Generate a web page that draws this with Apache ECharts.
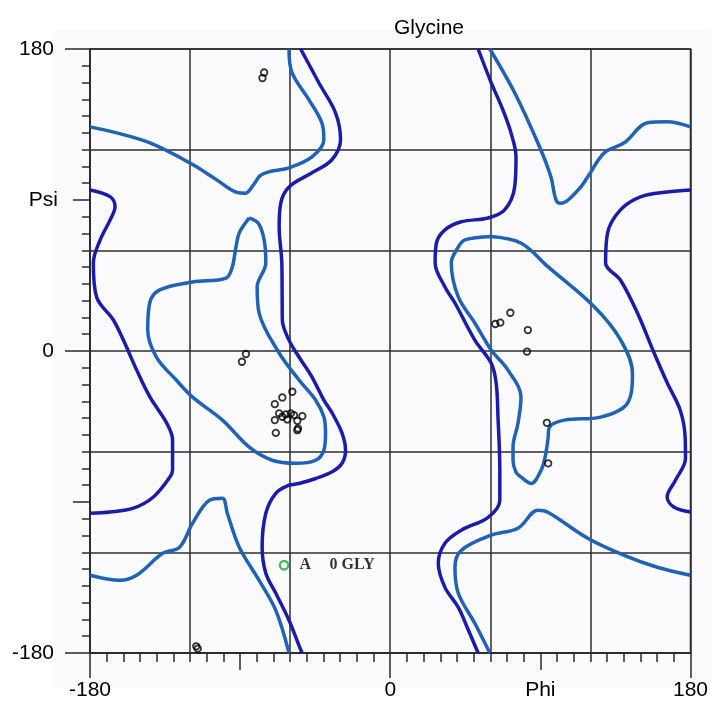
<!DOCTYPE html>
<html><head><meta charset="utf-8">
<script src="https://cdn.jsdelivr.net/npm/echarts@6/dist/echarts.min.js"></script>
<style>html,body{margin:0;padding:0;background:#fff}#c{width:711px;height:702px}</style>
</head><body><div id="c"></div>
<script>
// ---------- data ----------
const titleText = 'Glycine';
const axisLabelValues = [-180, 0, 180];
const phiName = 'Phi';
const psiName = 'Psi';
const nameValue = 90;

// outer (dark blue) contour lines, [phi, psi]
const outerLeft = [[-53.7,180],[-42.8,159.9],[-32.8,142],[-29.8,125.9],[-35,114],[-46.9,106.2],[-60.7,97.8],[-65.6,88.3],[-66.6,74],[-65,52.5],[-64.8,32.2],[-64.7,18.5],[-60.7,6.5],[-54.7,-3.6],[-46.9,-15.5],[-39.8,-29.3],[-34.8,-37],[-28.9,-49],[-26.8,-59.1],[-28.9,-66.9],[-34.8,-72],[-44.7,-76],[-54.7,-79],[-60.7,-80],[-68.6,-84.8],[-74.6,-96.7],[-76.8,-117],[-74.6,-132.5],[-68.6,-144.4],[-60.7,-160.5],[-55.9,-172.5],[-52.9,-180]];
const outerEdgeLeft = [[-180,96],[-168,92],[-165,86],[-168,78],[-174,66],[-178,52.5],[-176,32],[-166,18.5],[-160,6.5],[-152,-11.4],[-144,-27.5],[-134,-43],[-130.5,-53],[-130.5,-71],[-132,-75],[-142,-87],[-154,-93.7],[-168,-96],[-180,-96.7]];
const outerMiddle = [[52.7,180],[60.5,160],[67,145],[72.4,130],[75.4,115.7],[74.6,97.8],[68.6,84.1],[58.7,79.3],[42.6,77],[32.8,72.2],[27.7,64.4],[26.9,52.5],[32.8,38.2],[38.8,28.6],[50.7,6.5],[60.5,-7.2],[63.5,-19.1],[64.6,-39.4],[65.7,-71],[65.7,-88.9],[58.7,-99.1],[42.6,-106.8],[32.8,-114.6],[28.8,-126.5],[32.8,-140.9],[40.8,-152.8],[46.7,-166],[52.7,-180]];
const outerEdgeRight = [[180,96],[166,94.8],[150,91.9],[138,84.1],[130.3,70.4],[129.1,52.5],[138,42.3],[148.2,22.6],[158.2,-1.2],[166.1,-19.1],[173.8,-35.2],[176.8,-51.3],[177,-64],[171,-77],[166,-87],[170,-93],[180,-96]];

// inner (medium blue) contour lines, [phi, psi]
const innerTopLeft = [[-180,133.6],[-164,130],[-144,124],[-120,112],[-104,102],[-92,94.5],[-87,94],[-82,99],[-78,104.5],[-72,107],[-60.7,109.2],[-46.9,115.7],[-39.8,125.9],[-41,136],[-48.7,149.7],[-58.9,165.9],[-60.7,180]];
const innerTopRight = [[59.7,180],[74.6,153.9],[89.5,121.7],[96.3,103.8],[99.4,90],[102.2,88],[106.6,90],[114.4,98],[118.4,103.8],[128.3,118.1],[140.3,124.1],[154.2,136],[166.1,136.6],[180,133.6]];
const innerLoopLeft = [[-84.5,79.3],[-90.5,70.4],[-92.5,62],[-94.7,50.1],[-98.4,43.5],[-118.5,41.1],[-138.2,36.4],[-144.2,28.6],[-145.4,12.5],[-140.2,-3.6],[-128.3,-17.3],[-118.5,-27.5],[-100.6,-41.2],[-84.5,-57.3],[-70.8,-65.1],[-56.7,-66.9],[-44.7,-65.1],[-39.8,-59.1],[-38.8,-49],[-39.8,-39.2],[-44.7,-29.3],[-54.7,-17.3],[-66.6,-1.2],[-78.6,22.6],[-79.8,38.2],[-74.6,52.5],[-75.6,66.2],[-79,76],[-84.5,79.3]];
const innerLoopRight = [[60.7,68.2],[44.8,66.2],[40.8,62],[36.6,52.5],[40.8,32.2],[50.7,16.7],[60.5,0.6],[70.6,-11.4],[78.4,-27.5],[76.6,-43],[73.6,-57.3],[73.6,-65.1],[75.4,-72.2],[78.5,-75.2],[84.5,-79],[90.5,-71],[92.7,-63.9],[94.5,-53.1],[95.5,-45.4],[104.4,-41.2],[126.1,-39.4],[142.2,-31.1],[145.2,-13.2],[138.2,6.5],[122.3,26.4],[94.5,50.3],[78.5,64.2],[60.7,68.2]];
const innerBottomLeft = [[-180,-133.7],[-162.1,-136.7],[-152.1,-133.7],[-136.4,-120.6],[-126.3,-117],[-118.5,-102.7],[-108.4,-88.9],[-100.6,-87.7],[-97.7,-96.7],[-90.5,-117],[-78.6,-136.7],[-68.6,-154.6],[-60.7,-180]];
const innerBottomRight = [[59.7,-180],[50.7,-162.3],[40.8,-144.4],[38.8,-128.9],[42.6,-118.8],[60.5,-109.8],[76.6,-105.6],[88.5,-94.9],[94.5,-96.1],[118.4,-111.6],[140.3,-121.8],[160.1,-128.9],[180,-133.7]];

// residues
const glyPhi = [-75.6,-76.6,-86.5,-88.9,-58.7,-64.7,-69.2,-66.6,-62.6,-59.6,-57.7,-52.7,-69.2,-61.7,-55.7,-55.7,-55.3,-68.6,-64.7,72,66,63,82.5,82,93.9,94.7,-116.3,-115.4];
const glyPsi = [166,162.7,-1.8,-6.4,-24.3,-27.7,-31.7,-37.2,-37.8,-37.2,-38.2,-38.8,-41.2,-40.8,-41.6,-47.2,-46.2,-48.8,-39.2,22.8,16.9,16.1,12.5,-0.4,-42.8,-67,-176,-177.4];
const markedPhi = [-63.6];
const markedPsi = [-127.7];
const markedChain = 'A';
const markedResidue = '0 GLY';

// ---------- chart ----------
const OUTER = '#1c1caa';
const INNER = '#1f62b6';
const TICK = '#2a2a2a';
const labelFont = {fontFamily:'Liberation Sans, Arial, sans-serif', fontSize:21, color:'#000'};

function labelMap(vals){ const m={}; vals.forEach(v=>m[v]=String(v)); return m; }
const numLabels = labelMap(axisLabelValues);

function axis(kind, interval, tickLen, labels, margin, main){
  return {
    type:'value', min:-180, max:180, interval,
    position: kind==='x' ? 'bottom' : 'left',
    axisLine:{show:!!main, onZero:false, lineStyle:{color:TICK, width:1.5}},
    axisTick:{show:true, length:tickLen, lineStyle:{color:TICK, width:1.5}},
    splitLine:{show:!!main, lineStyle:{color:'#2e2e2e', width:1.5}},
    axisLabel: labels ? Object.assign({show:true, margin, showMinLabel:true, showMaxLabel:true,
      formatter: v => (labels[v] !== undefined ? labels[v] : '')}, labelFont) : {show:false}
  };
}

const xAxes = [
  axis('x', 60, 9, null, 0, true),
  axis('x', 10, 9, null, 0, false),
  axis('x', 90, 17, {[nameValue]: phiName}, 27, false),
  axis('x', 180, 25, numLabels, 27, false)
];
const yAxes = [
  axis('y', 60, 8, null, 0, true),
  axis('y', 10, 8, null, 0, false),
  axis('y', 90, 17, {[nameValue]: psiName}, 32, false),
  axis('y', 180, 25, numLabels, 36, false)
];

function contour(data, color){
  return {type:'line', data, smooth:0.35, symbol:'none', silent:true, z:3,
    lineStyle:{color, width:3.5}, xAxisIndex:0, yAxisIndex:0};
}

const serif = 'Liberation Serif, Times New Roman, serif';
const series = [
  contour(outerLeft, OUTER), contour(outerEdgeLeft, OUTER), contour(outerMiddle, OUTER), contour(outerEdgeRight, OUTER),
  contour(innerTopLeft, INNER), contour(innerTopRight, INNER), contour(innerLoopLeft, INNER),
  contour(innerLoopRight, INNER), contour(innerBottomLeft, INNER), contour(innerBottomRight, INNER),
  {type:'scatter', data: glyPhi.map((p,i)=>[p, glyPsi[i]]), symbol:'circle', symbolSize:6.5, z:5,
    itemStyle:{color:'rgba(255,255,255,0)', borderColor:'#000', borderWidth:1.8}},
  {type:'scatter', data: markedPhi.map((p,i)=>[p, markedPsi[i]]), symbol:'circle', symbolSize:8.5, z:5,
    itemStyle:{color:'rgba(255,255,255,0)', borderColor:'#1fa535', borderWidth:2.4},
    label:{show:true, position:'right', distance:10,
      formatter: '{a|' + markedChain + '}{b|' + markedResidue + '}',
      rich:{
        a:{width:30, fontFamily:serif, fontWeight:'bold', fontSize:16, color:'#000'},
        b:{fontFamily:serif, fontWeight:'bold', fontSize:16, color:'#000'}
      }}}
];

const chart = echarts.init(document.getElementById('c'), null, {renderer:'canvas'});
chart.setOption({
  animation:false,
  backgroundColor:'#ffffff',
  title:{text:titleText, left:389, top:13, textStyle:{fontFamily:'Liberation Sans, Arial, sans-serif', fontSize:21, fontWeight:'normal', color:'#000'}},
  graphic:[{type:'rect', z:-10, silent:true, shape:{x:53, y:30, width:658, height:658}, style:{fill:'#fbfbfe'}}],
  grid:{left:90, top:49, width:603, height:604, show:true, borderColor:'#2e2e2e', borderWidth:1.5, backgroundColor:'transparent'},
  xAxis:xAxes,
  yAxis:yAxes,
  series
});
</script>
</body></html>
